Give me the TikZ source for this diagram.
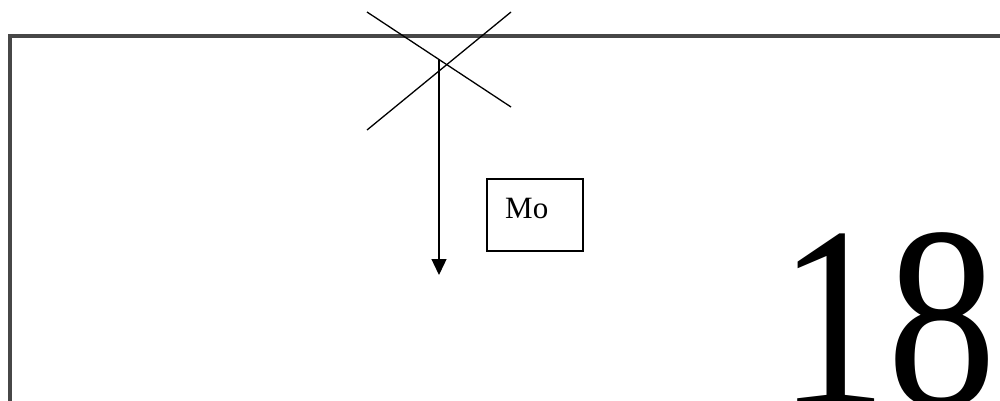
\documentclass[tikz,border=0pt]{standalone}
\usepackage{fontspec}
\setmainfont{Liberation Serif}
\usetikzlibrary{arrows.meta, positioning}

\begin{document}
\begin{tikzpicture}[
        x=1pt, y=-1pt, % pixel-like units, y downwards
        frame/.style={line width=3.8pt, black!72},
        cross/.style={line width=1.3pt},
        load/.style={line width=1.3pt, -{Triangle[length=16pt, width=15pt]}},
        box/.style={draw, line width=1.3pt, minimum width=96pt, minimum height=72pt, inner sep=0pt},
        every node/.style={font=\fontsize{31}{31}\selectfont}
    ]
        \useasboundingbox (0,0) rectangle (1000,400);
        \clip (0,0) rectangle (1000,400);

        % Define coordinates
        \coordinate (F_bottom) at (10,420); \coordinate (F_corner) at (10,36);
        \coordinate (F_right) at (1020,36);
        \coordinate (X1_a) at (367,12); \coordinate (X1_b) at (511,107);
        \coordinate (X2_a) at (367,130); \coordinate (X2_b) at (511,12);
        \coordinate (A_top) at (439,60); \coordinate (A_tip) at (439,275);

        % Frame
        \draw[frame] (F_bottom) -- (F_corner) -- (F_right);

        % Cross
        \draw[cross] (X1_a) -- (X1_b);
        \draw[cross] (X2_a) -- (X2_b);

        % Arrow
        \draw[load] (A_top) -- (A_tip);

        % Label box
        \node[box] (mobox) at (535,215) {};
        \node[anchor=base west, inner sep=0pt] (mo) at (505,218) {Mo};

        % Big number (runs past the lower edge)
        \node[anchor=base west, inner sep=0pt, font=\fontsize{260}{260}\selectfont] (num) at (778,405) {\scalebox{0.84}[1]{18}};

    \end{tikzpicture}
\end{document}
